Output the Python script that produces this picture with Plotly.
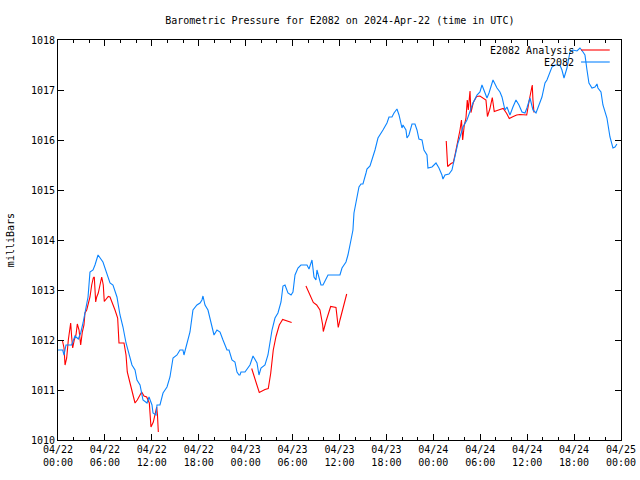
import pandas as pd
import plotly.graph_objects as go

# E2082 observed pressure: hours since 2024-04-22 00:00 UTC, millibars
obs_hours = [0.0, 0.60, 0.77, 1.02, 1.75, 2.17, 2.60, 2.90, 3.20, 3.45, 3.84, 4.09, 4.48, 4.73, 5.12,
             5.75, 6.27, 6.65, 7.03, 7.54, 7.93, 8.31, 8.70, 8.95, 9.46, 9.85, 10.10, 10.49, 10.87,
             11.38, 11.64, 12.02, 12.15, 12.53, 12.66, 13.04, 13.43, 13.94, 14.32, 14.71, 15.22,
             15.60, 15.98, 16.11, 16.50, 16.88, 17.26, 17.77, 18.16, 18.41, 18.54, 18.80, 19.18,
             19.69, 19.95, 20.33, 20.72, 21.10, 21.61, 21.87, 22.25, 22.63, 22.89, 23.15, 23.27,
             23.40, 23.91, 24.55, 24.94, 25.45, 25.70, 25.96, 26.47, 26.85, 27.37, 27.75, 28.13,
             28.52, 28.77, 29.03, 29.41, 29.80, 30.05, 30.31, 30.69, 31.07, 31.84, 32.10, 32.48,
             32.74, 32.99, 33.12, 33.63, 33.89, 34.53, 36.06, 36.32, 36.83, 37.08, 37.47, 37.72,
             37.85, 38.24, 38.49, 38.75, 39.00, 39.39, 39.51, 39.90, 40.28, 40.54, 40.92, 41.18,
             41.56, 42.07, 42.33, 42.71, 42.97, 43.35, 43.61, 43.99, 44.12, 44.50, 44.63, 44.88,
             45.27, 45.65, 45.91, 46.16, 46.55, 46.80, 47.19, 47.31, 47.83, 48.34, 48.72, 49.10,
             49.23, 49.49, 50.00, 50.38, 50.77, 51.15, 51.41, 51.79, 52.30, 52.69, 53.07, 53.58,
             53.96, 54.22, 54.60, 54.86, 55.12, 55.37, 55.63, 56.14, 56.52, 56.78, 57.16, 57.42,
             57.80, 58.18, 58.57, 58.95, 59.34, 59.72, 59.97, 60.36, 60.74, 61.13, 61.38, 61.89,
             62.28, 62.53, 63.17, 63.55, 64.19, 64.45, 64.71, 65.09, 65.47, 65.86, 66.37, 66.75,
             67.14, 67.39, 67.65, 67.90, 68.29, 68.67, 68.93, 69.05, 69.44, 69.69, 70.20, 70.59,
             70.97, 71.23, 71.48]
obs_mb = [1011.8, 1011.8, 1011.7, 1011.9, 1011.9, 1012.08, 1012.02, 1012.14, 1012.34, 1012.56,
          1012.86, 1013.36, 1013.4, 1013.5, 1013.7, 1013.56, 1013.34, 1013.14, 1013.1, 1012.86,
          1012.5, 1012.26, 1011.94, 1011.8, 1011.5, 1011.4, 1011.2, 1011.1, 1010.8, 1010.74,
          1010.86, 1010.7, 1010.54, 1010.5, 1010.7, 1010.7, 1010.94, 1011.06, 1011.26, 1011.64,
          1011.7, 1011.8, 1011.8, 1011.7, 1011.94, 1012.16, 1012.6, 1012.7, 1012.74, 1012.8,
          1012.88, 1012.7, 1012.6, 1012.26, 1012.1, 1012.2, 1012.16, 1012.0, 1011.8, 1011.8,
          1011.6, 1011.56, 1011.36, 1011.3, 1011.3, 1011.36, 1011.36, 1011.5, 1011.68, 1011.54,
          1011.3, 1011.44, 1011.5, 1011.7, 1012.2, 1012.44, 1012.54, 1012.76, 1013.08, 1013.1,
          1012.94, 1012.9, 1012.96, 1013.3, 1013.44, 1013.5, 1013.5, 1013.42, 1013.6, 1013.26,
          1013.2, 1013.4, 1013.1, 1013.1, 1013.3, 1013.3, 1013.44, 1013.56, 1013.7, 1014.0,
          1014.2, 1014.54, 1014.86, 1015.06, 1015.12, 1015.12, 1015.34, 1015.42, 1015.48,
          1015.66, 1015.8, 1016.04, 1016.1, 1016.2, 1016.34, 1016.46, 1016.46, 1016.54, 1016.62,
          1016.5, 1016.24, 1016.3, 1016.2, 1016.04, 1016.1, 1016.32, 1016.32, 1016.2, 1016.02,
          1016.0, 1015.8, 1015.7, 1015.44, 1015.46, 1015.54, 1015.44, 1015.3, 1015.22, 1015.3,
          1015.32, 1015.4, 1015.7, 1015.94, 1016.06, 1016.26, 1016.4, 1016.56, 1016.74, 1016.9,
          1016.96, 1017.1, 1016.92, 1016.84, 1016.94, 1017.06, 1017.2, 1017.04, 1016.96, 1016.86,
          1016.6, 1016.66, 1016.5, 1016.66, 1016.8, 1016.7, 1016.56, 1016.54, 1016.64, 1016.84,
          1016.6, 1016.54, 1016.66, 1016.86, 1017.14, 1017.2, 1017.46, 1017.5, 1017.5, 1017.4,
          1017.24, 1017.44, 1017.76, 1017.8, 1017.78, 1017.84, 1017.76, 1017.7, 1017.4, 1017.14,
          1017.04, 1017.06, 1017.12, 1017.04, 1016.96, 1016.7, 1016.44, 1016.06, 1015.84,
          1015.86, 1015.92]

# E2082 Analysis: None marks gaps between segments
ana_hours = [0.55, 0.77, 0.90, 1.11, 1.32, 1.45, 1.62, 1.75, 1.88, 2.08, 2.30, 2.47, 2.69, 2.90,
             3.11, 3.32, 3.45, 3.67, 3.87, 4.09, 4.31, 4.51, 4.64, 4.82, 4.95, 5.15, 5.37, 5.59,
             5.79, 5.92, 6.43, 6.65, 7.29, 7.63, 7.80, 8.44, 8.70, 8.86, 9.21, 9.55, 9.85, 10.14,
             10.70, 11.00, 11.34, 11.68, 11.89, 12.19, 12.40, 12.62, 12.72, 12.83, None,
             24.77, 25.32, 25.74, 26.47, 26.89, 27.20, 27.53, 27.88, 28.30, 28.73, 29.25, 29.88, None,
             31.71, 32.23, 32.65, 33.08, 33.50, 33.85, 33.93, 34.27, 34.57, 34.87, 35.55, 35.72,
             35.84, 36.06, 36.41, 36.70, 36.92, None,
             49.65, 49.83, 50.26, 50.55, 50.77, 50.98, 51.19, 51.41, 51.60, 51.75, 51.96, 52.17,
             52.34, 52.47, 52.69, 52.81, 53.11, 53.54, 53.96, 54.48, 54.73, 54.92, 55.24, 55.54,
             55.79, 56.52, 56.94, 57.38, 57.71, 58.22, 58.66, 59.08, 59.94, 60.27, 60.49, 60.65,
             60.74, 60.87]
ana_mb = [1012.0, 1011.84, 1011.5, 1011.64, 1012.0, 1012.14, 1012.34, 1012.06, 1011.84, 1012.0,
          1012.1, 1012.32, 1012.2, 1011.9, 1012.16, 1012.3, 1012.54, 1012.6, 1012.7, 1012.86,
          1013.1, 1013.24, 1013.26, 1012.76, 1012.86, 1012.94, 1013.1, 1013.26, 1013.1, 1012.77,
          1012.87, 1012.86, 1012.6, 1012.44, 1011.94, 1011.94, 1011.7, 1011.36, 1011.14, 1010.9,
          1010.74, 1010.8, 1010.96, 1010.88, 1010.86, 1010.74, 1010.26, 1010.36, 1010.5, 1010.66,
          1010.5, 1010.16, None,
          1011.43, 1011.17, 1010.95, 1011.01, 1011.03, 1011.33, 1011.8, 1012.07, 1012.3, 1012.41,
          1012.38, 1012.35, None,
          1013.08, 1012.9, 1012.75, 1012.7, 1012.6, 1012.3, 1012.17, 1012.37, 1012.5, 1012.67,
          1012.65, 1012.45, 1012.25, 1012.4, 1012.6, 1012.8, 1012.92, None,
          1015.98, 1015.47, 1015.53, 1015.55, 1015.7, 1015.85, 1016.0, 1016.2, 1016.4, 1016.0,
          1016.3, 1016.43, 1016.8, 1016.6, 1016.98, 1016.55, 1016.75, 1016.87, 1016.88, 1016.83,
          1016.8, 1016.47, 1016.63, 1016.85, 1016.57, 1016.61, 1016.63, 1016.53, 1016.43,
          1016.47, 1016.5, 1016.51, 1016.5, 1016.8, 1017.0, 1017.1, 1016.8, 1016.55]

start = pd.Timestamp("2024-04-22 00:00")
end = pd.Timestamp("2024-04-25 00:00")


def to_time(h):
    return None if h is None else start + pd.Timedelta(hours=h)


obs_t = [to_time(h) for h in obs_hours]
ana_t = [to_time(h) for h in ana_hours]

RED = "#ff0000"
BLUE = "#0a84ff"
FONT = "DejaVu Sans Mono"

fig = go.Figure()
fig.add_trace(go.Scatter(x=ana_t, y=ana_mb, mode="lines", name="E2082 Analysis",
                         line=dict(color=RED, width=1.1), connectgaps=False))
fig.add_trace(go.Scatter(x=obs_t, y=obs_mb, mode="lines", name="E2082",
                         line=dict(color=BLUE, width=1.1)))

axis_common = dict(showline=True, linecolor="black", linewidth=1, mirror="allticks",
                   ticks="inside", tickcolor="black", showgrid=False, zeroline=False,
                   automargin=False,
                   tickfont=dict(family=FONT, size=10, color="black"))

fig.update_xaxes(type="date", range=[start, end], dtick=6 * 3600 * 1000, tick0=start,
                 tickformat="%m/%d<br>%H:%M", ticklen=6,
                 minor=dict(dtick=2 * 3600 * 1000, ticks="inside", ticklen=3, tickcolor="black",
                            showgrid=False),
                 **axis_common)
fig.update_yaxes(range=[1010, 1018], dtick=1, tickformat="d", ticklen=6, **axis_common)

# legend drawn gnuplot-style: text right-aligned, sample line to the right
legend_items = [("E2082 Analysis", RED, 0.975), ("E2082", BLUE, 0.945)]
for label, color, yy in legend_items:
    fig.add_annotation(xref="paper", yref="paper", x=0.920, y=yy, text=label, showarrow=False,
                       xanchor="right", yanchor="middle",
                       font=dict(family=FONT, size=10, color="black"))
    fig.add_shape(type="line", xref="paper", yref="paper", x0=0.929, x1=0.980, y0=yy, y1=yy,
                  line=dict(color=color, width=1.1))

fig.add_annotation(xref="paper", yref="paper", x=-0.085, y=0.5, text="milliBars",
                   textangle=-90, showarrow=False, xanchor="center", yanchor="middle",
                   font=dict(family=FONT, size=10, color="black"))

fig.update_layout(
    width=640, height=480,
    margin=dict(l=58, r=19, t=40, b=40, autoexpand=False),
    paper_bgcolor="white", plot_bgcolor="white",
    showlegend=False,
    title=dict(text="Barometric Pressure for E2082 on 2024-Apr-22 (time in UTC)",
               x=0.531, xanchor="center", y=0.958, yanchor="middle",
               font=dict(family=FONT, size=10, color="black")),
)

fig.write_html("out.html", config={"displayModeBar": False},
               post_script="document.body.style.margin='0';document.body.style.padding='0';")
